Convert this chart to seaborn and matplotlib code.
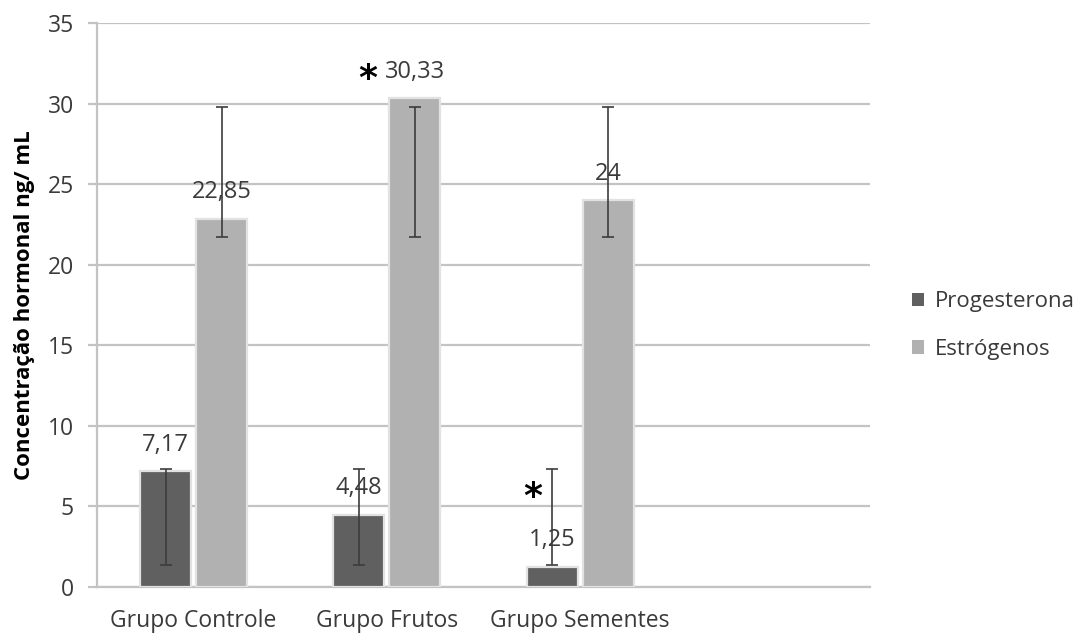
import numpy as np
import pandas as pd
import matplotlib
matplotlib.use("Agg")
import matplotlib.pyplot as plt
from matplotlib.patches import Rectangle
import seaborn as sns

# ---- data ----
groups = ["Grupo Controle", "Grupo Frutos", "Grupo Sementes"]
hormones = ["Progesterona", "Estrógenos"]
progesterona = [7.17, 4.48, 1.25]
estrogenos = [22.85, 30.33, 24.00]
# error bar ranges (low, high)
prog_err_low = [1.34, 1.34, 1.34]
prog_err_high = [7.33, 7.33, 7.33]
estr_err_low = [21.73, 21.73, 21.73]
estr_err_high = [29.77, 29.77, 29.77]
y_ticks = [0, 5, 10, 15, 20, 25, 30, 35]

df = pd.DataFrame({
    "grupo": groups * 2,
    "hormonio": [hormones[0]] * 3 + [hormones[1]] * 3,
    "valor": progesterona + estrogenos,
})

sns.set_theme(style="white")
plt.rcParams["font.family"] = ["Open Sans", "DejaVu Sans"]

colors = {"Progesterona": "#606060", "Estrógenos": "#b1b1b1"}
text_col = "#3a3a3a"
grid_col = "#c3c3c3"

fig = plt.figure(figsize=(10.81, 6.34), dpi=100)
ax = fig.add_axes([97 / 1081, 47 / 634, 773 / 1081, 564 / 634])

sns.barplot(data=df, x="grupo", y="valor", hue="hormonio", order=groups,
            hue_order=hormones, palette=colors, width=0.58, gap=0.09,
            edgecolor="#e2e2e2", linewidth=1.6, errorbar=None, ax=ax,
            legend=False, zorder=3)
bar_containers = list(ax.containers)

ax.set_xlim(-0.5, 3.5)
ax.set_ylim(0, 35)
ax.set_yticks(y_ticks)
ax.yaxis.grid(True, color=grid_col, linewidth=1.6, zorder=0)
ax.set_axisbelow(True)

for s in ["top", "right"]:
    ax.spines[s].set_visible(False)
for s in ["left", "bottom"]:
    ax.spines[s].set_color(grid_col)
    ax.spines[s].set_linewidth(1.6)

ax.set_xticks([0, 1, 2])
ax.set_xticklabels(groups)
ax.set_xticks([-0.5, 0.5, 1.5, 2.5, 3.5], minor=True)
ax.tick_params(axis="x", which="major", length=0, pad=16, labelsize=16.5,
               labelcolor=text_col)
ax.tick_params(axis="x", which="minor", length=6, width=1.6, color=grid_col,
               direction="out")
ax.tick_params(axis="y", length=6.5, width=1.6, color=grid_col, pad=10,
               labelsize=16.5, labelcolor=text_col, left=True)
ax.set_xlabel("")
ax.set_ylabel("Concentração hormonal ng/ mL", fontsize=16, fontweight="bold",
              color="black")
ax.yaxis.set_label_coords(-0.080, 0.5)

# error bars and value labels
err_low = [prog_err_low, estr_err_low]
err_high = [prog_err_high, estr_err_high]
for k, cont in enumerate(bar_containers):
    xs = [p.get_x() + p.get_width() / 2 for p in cont.patches]
    lo = np.array(err_low[k])
    hi = np.array(err_high[k])
    ax.errorbar(xs, (lo + hi) / 2, yerr=(hi - lo) / 2, fmt="none",
                ecolor="#3c3c3c", elinewidth=1.2, capsize=4.5,
                capthick=1.2, zorder=4)
    for p in cont.patches:
        v = p.get_height()
        txt = f"{v:g}".replace(".", ",")
        ax.annotate(txt, (p.get_x() + p.get_width() / 2, v),
                    xytext=(0, 19), textcoords="offset points",
                    ha="center", va="center", fontsize=17, color=text_col,
                    zorder=5)

# significance asterisks
pf = bar_containers[1].patches[1]
ax.annotate("*", (pf.get_x() + pf.get_width() / 2, pf.get_height()),
            xytext=(-34, 14), textcoords="offset points", ha="center",
            va="center", fontsize=26, fontweight="bold", color="black",
            family="DejaVu Sans")
ps = bar_containers[0].patches[2]
ax.annotate("*", (ps.get_x() + ps.get_width() / 2, ps.get_height()),
            xytext=(-14, 50), textcoords="offset points", ha="center",
            va="center", fontsize=26, fontweight="bold", color="black",
            family="DejaVu Sans")

handles = [Rectangle((0, 0), 1, 1, facecolor=colors[h], edgecolor="none")
           for h in hormones]
fig.legend(handles, hormones, loc="center left",
           bbox_to_anchor=(912 / 1081, 1 - 325.5 / 634), frameon=False,
           fontsize=16, labelcolor=text_col, handlelength=0.55,
           handleheight=0.55, handletextpad=0.5, labelspacing=1.2,
           borderaxespad=0, borderpad=0)

fig.savefig("out.png", dpi=100)
